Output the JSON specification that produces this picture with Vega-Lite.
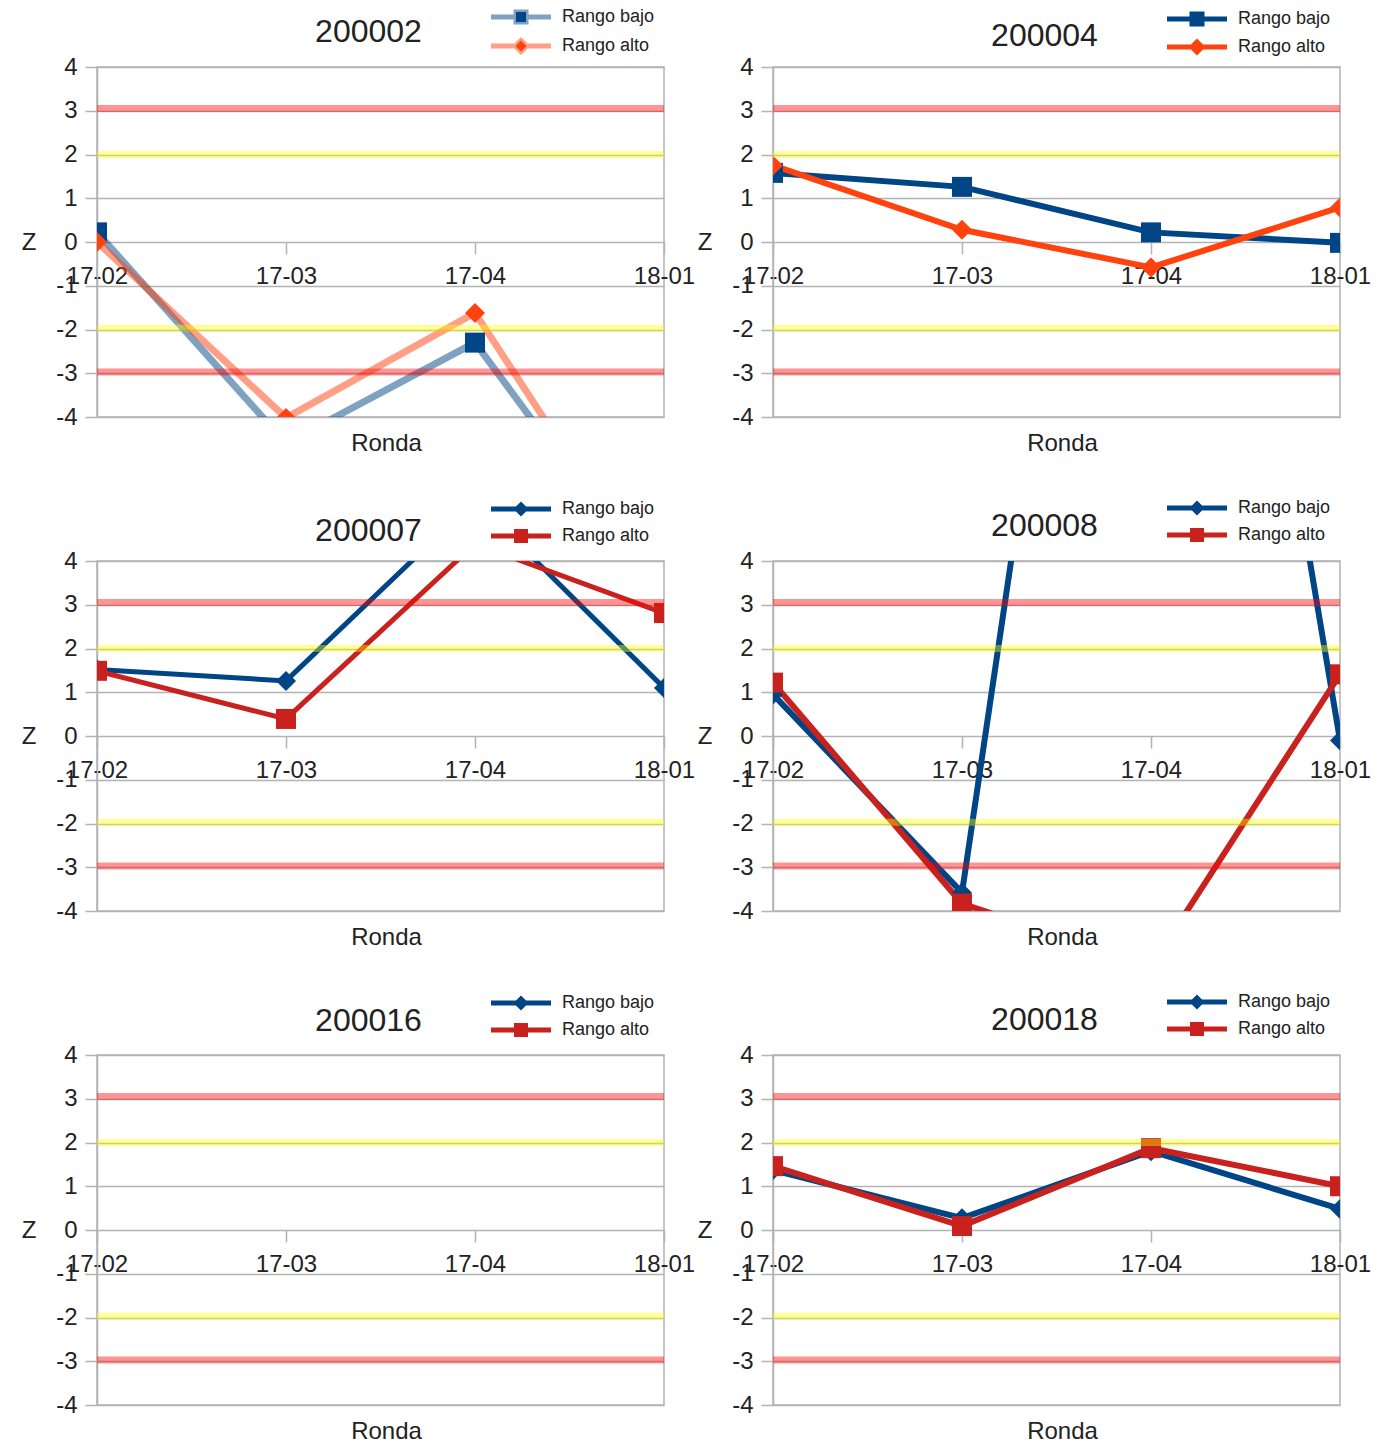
{
  "$schema": "https://vega.github.io/schema/vega-lite/v6.json",
  "padding": {"left": 20, "top": 7, "right": 5, "bottom": 0},
  "background": "white",
  "datasets": {
    "p200002": [
      {"Ronda": "17-02", "Serie": "Rango bajo", "Z": 0.22},
      {"Ronda": "17-03", "Serie": "Rango bajo", "Z": -4.6},
      {"Ronda": "17-04", "Serie": "Rango bajo", "Z": -2.3},
      {"Ronda": "18-01", "Serie": "Rango bajo", "Z": -8.14},
      {"Ronda": "17-02", "Serie": "Rango alto", "Z": 0.0},
      {"Ronda": "17-03", "Serie": "Rango alto", "Z": -4.02},
      {"Ronda": "17-04", "Serie": "Rango alto", "Z": -1.62},
      {"Ronda": "18-01", "Serie": "Rango alto", "Z": -8.23}
    ],
    "p200004": [
      {"Ronda": "17-02", "Serie": "Rango bajo", "Z": 1.58},
      {"Ronda": "17-03", "Serie": "Rango bajo", "Z": 1.26},
      {"Ronda": "17-04", "Serie": "Rango bajo", "Z": 0.22},
      {"Ronda": "18-01", "Serie": "Rango bajo", "Z": -0.02},
      {"Ronda": "17-02", "Serie": "Rango alto", "Z": 1.75},
      {"Ronda": "17-03", "Serie": "Rango alto", "Z": 0.28},
      {"Ronda": "17-04", "Serie": "Rango alto", "Z": -0.58},
      {"Ronda": "18-01", "Serie": "Rango alto", "Z": 0.79}
    ],
    "p200007": [
      {"Ronda": "17-02", "Serie": "Rango bajo", "Z": 1.52},
      {"Ronda": "17-03", "Serie": "Rango bajo", "Z": 1.26},
      {"Ronda": "17-04", "Serie": "Rango bajo", "Z": 5.38},
      {"Ronda": "18-01", "Serie": "Rango bajo", "Z": 1.1},
      {"Ronda": "17-02", "Serie": "Rango alto", "Z": 1.49},
      {"Ronda": "17-03", "Serie": "Rango alto", "Z": 0.39},
      {"Ronda": "17-04", "Serie": "Rango alto", "Z": 4.39},
      {"Ronda": "18-01", "Serie": "Rango alto", "Z": 2.81}
    ],
    "p200008": [
      {"Ronda": "17-02", "Serie": "Rango bajo", "Z": 0.95},
      {"Ronda": "17-03", "Serie": "Rango bajo", "Z": -3.58},
      {"Ronda": "17-04", "Serie": "Rango bajo", "Z": 25.6},
      {"Ronda": "18-01", "Serie": "Rango bajo", "Z": -0.1},
      {"Ronda": "17-02", "Serie": "Rango alto", "Z": 1.22},
      {"Ronda": "17-03", "Serie": "Rango alto", "Z": -3.83},
      {"Ronda": "17-04", "Serie": "Rango alto", "Z": -5.27},
      {"Ronda": "18-01", "Serie": "Rango alto", "Z": 1.41}
    ],
    "p200016": [],
    "p200018": [
      {"Ronda": "17-02", "Serie": "Rango bajo", "Z": 1.37},
      {"Ronda": "17-03", "Serie": "Rango bajo", "Z": 0.27},
      {"Ronda": "17-04", "Serie": "Rango bajo", "Z": 1.8},
      {"Ronda": "18-01", "Serie": "Rango bajo", "Z": 0.48},
      {"Ronda": "17-02", "Serie": "Rango alto", "Z": 1.46},
      {"Ronda": "17-03", "Serie": "Rango alto", "Z": 0.09},
      {"Ronda": "17-04", "Serie": "Rango alto", "Z": 1.87},
      {"Ronda": "18-01", "Serie": "Rango alto", "Z": 1.0}
    ],
    "rojo": [{"Z": 3.05}, {"Z": -2.97}],
    "amarillo": [{"Z": 2.0}, {"Z": -1.97}]
  },
  "columns": 2,
  "spacing": {"row": 42, "column": 0},
  "resolve": {
    "scale": {"color": "independent"},
    "legend": {"color": "independent"}
  },
  "concat": [
    {
      "width": 567,
      "height": 350,
      "title": {"text": "200002", "offset": -41},
      "data": {"name": "p200002"},
      "encoding": {
        "y": {
          "field": "Z", "type": "quantitative",
          "scale": {"domain": [-4, 4], "nice": false, "zero": false},
          "axis": {"title": "Z", "values": [-4, -3, -2, -1, 0, 1, 2, 3, 4], "labelExpr": "'' + datum.value", "titleX": -61, "titleY": 175, "titleAlign": "right", "titleBaseline": "middle"}
        }
      },
      "layer": [
        {
          "mark": {"type": "line", "clip": true, "strokeWidth": 7, "strokeOpacity": 0.5},
          "encoding": {
            "x": {
              "field": "Ronda", "type": "ordinal",
              "scale": {"domain": ["17-02", "17-03", "17-04", "18-01"], "padding": 0},
              "axis": {"title": "Ronda", "offset": -175, "titleX": 289, "titleY": 201, "titleAlign": "center", "titleBaseline": "middle"}
            },
            "color": {
              "field": "Serie", "type": "nominal",
              "scale": {"domain": ["Rango bajo", "Rango alto"], "range": ["#004586", "#ff420e"]},
              "legend": {
                "title": null, "legendX": 415, "legendY": -59, "symbolSize": 100,
                "encode": {"symbols": {"update": {
                  "shape": {"signal": "datum.value === 'Rango bajo' ? 'M-6,0L6,0M-1,-1L1,-1L1,1L-1,1Z' : 'M-6,0L6,0M-1.1,0L0,-1.1L1.1,0L0,1.1Z'"},
                  "fill": {"signal": "datum.value === 'Rango bajo' ? '#004586' : '#ff420e'"},
                  "stroke": {"signal": "datum.value === 'Rango bajo' ? '#004586' : '#ff420e'"},
                  "size": {"value": 100},
                  "strokeWidth": {"value": 5},
                  "strokeOpacity": {"value": 0.5},
                  "fillOpacity": {"value": 1},
                  "opacity": {"value": 1}
                }}}
              }
            }
          }
        },
        {
          "transform": [{"filter": "datum.Serie === 'Rango bajo'"}],
          "mark": {"type": "point", "shape": "square", "filled": true, "clip": true, "size": 400, "opacity": 1},
          "encoding": {
            "x": {"field": "Ronda", "type": "ordinal", "scale": {"domain": ["17-02", "17-03", "17-04", "18-01"], "padding": 0}},
            "color": {"field": "Serie", "type": "nominal", "scale": {"domain": ["Rango bajo", "Rango alto"], "range": ["#004586", "#ff420e"]}}
          }
        },
        {
          "transform": [{"filter": "datum.Serie === 'Rango alto'"}],
          "mark": {"type": "point", "shape": "diamond", "filled": true, "clip": true, "size": 400, "opacity": 1},
          "encoding": {
            "x": {"field": "Ronda", "type": "ordinal", "scale": {"domain": ["17-02", "17-03", "17-04", "18-01"], "padding": 0}},
            "color": {"field": "Serie", "type": "nominal", "scale": {"domain": ["Rango bajo", "Rango alto"], "range": ["#004586", "#ff420e"]}}
          }
        },
        {"data": {"name": "rojo"}, "mark": {"type": "rule", "color": "#ff0000", "opacity": 0.42, "strokeWidth": 7}},
        {"data": {"name": "amarillo"}, "mark": {"type": "rule", "color": "#ffff00", "opacity": 0.4, "strokeWidth": 7}}
      ]
    },
    {
      "width": 567,
      "height": 350,
      "title": {"text": "200004", "offset": -43},
      "data": {"name": "p200004"},
      "encoding": {
        "y": {
          "field": "Z", "type": "quantitative",
          "scale": {"domain": [-4, 4], "nice": false, "zero": false},
          "axis": {"title": "Z", "values": [-4, -3, -2, -1, 0, 1, 2, 3, 4], "labelExpr": "'' + datum.value", "titleX": -61, "titleY": 175, "titleAlign": "right", "titleBaseline": "middle"}
        }
      },
      "layer": [
        {
          "mark": {"type": "line", "clip": true, "strokeWidth": 6},
          "encoding": {
            "x": {
              "field": "Ronda", "type": "ordinal",
              "scale": {"domain": ["17-02", "17-03", "17-04", "18-01"], "padding": 0},
              "axis": {"title": "Ronda", "offset": -175, "titleX": 289, "titleY": 201, "titleAlign": "center", "titleBaseline": "middle"}
            },
            "color": {
              "field": "Serie", "type": "nominal",
              "scale": {"domain": ["Rango bajo", "Rango alto"], "range": ["#004586", "#ff420e"]},
              "legend": {
                "title": null, "legendX": 415, "legendY": -57, "symbolSize": 100,
                "encode": {"symbols": {"update": {
                  "shape": {"signal": "datum.value === 'Rango bajo' ? 'M-6,0L6,0M-1,-1L1,-1L1,1L-1,1Z' : 'M-6,0L6,0M-1,0L0,-1L1,0L0,1Z'"},
                  "fill": {"signal": "datum.value === 'Rango bajo' ? '#004586' : '#ff420e'"},
                  "stroke": {"signal": "datum.value === 'Rango bajo' ? '#004586' : '#ff420e'"},
                  "size": {"value": 100},
                  "strokeWidth": {"value": 5},
                  "strokeOpacity": {"value": 1},
                  "fillOpacity": {"value": 1},
                  "opacity": {"value": 1}
                }}}
              }
            }
          }
        },
        {
          "transform": [{"filter": "datum.Serie === 'Rango bajo'"}],
          "mark": {"type": "point", "shape": "square", "filled": true, "clip": true, "size": 400, "opacity": 1},
          "encoding": {
            "x": {"field": "Ronda", "type": "ordinal", "scale": {"domain": ["17-02", "17-03", "17-04", "18-01"], "padding": 0}},
            "color": {"field": "Serie", "type": "nominal", "scale": {"domain": ["Rango bajo", "Rango alto"], "range": ["#004586", "#ff420e"]}}
          }
        },
        {
          "transform": [{"filter": "datum.Serie === 'Rango alto'"}],
          "mark": {"type": "point", "shape": "diamond", "filled": true, "clip": true, "size": 400, "opacity": 1},
          "encoding": {
            "x": {"field": "Ronda", "type": "ordinal", "scale": {"domain": ["17-02", "17-03", "17-04", "18-01"], "padding": 0}},
            "color": {"field": "Serie", "type": "nominal", "scale": {"domain": ["Rango bajo", "Rango alto"], "range": ["#004586", "#ff420e"]}}
          }
        },
        {"data": {"name": "rojo"}, "mark": {"type": "rule", "color": "#ff0000", "opacity": 0.42, "strokeWidth": 7}},
        {"data": {"name": "amarillo"}, "mark": {"type": "rule", "color": "#ffff00", "opacity": 0.4, "strokeWidth": 7}}
      ]
    },
    {
      "width": 567,
      "height": 350,
      "title": {"text": "200007", "offset": -48},
      "data": {"name": "p200007"},
      "encoding": {
        "y": {
          "field": "Z", "type": "quantitative",
          "scale": {"domain": [-4, 4], "nice": false, "zero": false},
          "axis": {"title": "Z", "values": [-4, -3, -2, -1, 0, 1, 2, 3, 4], "labelExpr": "'' + datum.value", "titleX": -61, "titleY": 175, "titleAlign": "right", "titleBaseline": "middle"}
        }
      },
      "layer": [
        {
          "mark": {"type": "line", "clip": true, "strokeWidth": 5},
          "encoding": {
            "x": {
              "field": "Ronda", "type": "ordinal",
              "scale": {"domain": ["17-02", "17-03", "17-04", "18-01"], "padding": 0},
              "axis": {"title": "Ronda", "offset": -175, "titleX": 289, "titleY": 201, "titleAlign": "center", "titleBaseline": "middle"}
            },
            "color": {
              "field": "Serie", "type": "nominal",
              "scale": {"domain": ["Rango bajo", "Rango alto"], "range": ["#004586", "#c9211e"]},
              "legend": {
                "title": null, "legendX": 415, "legendY": -61, "symbolSize": 100,
                "encode": {"symbols": {"update": {
                  "shape": {"signal": "datum.value === 'Rango bajo' ? 'M-6,0L6,0M-0.8,0L0,-0.8L0.8,0L0,0.8Z' : 'M-6,0L6,0M-0.9,-0.9L0.9,-0.9L0.9,0.9L-0.9,0.9Z'"},
                  "fill": {"signal": "datum.value === 'Rango bajo' ? '#004586' : '#c9211e'"},
                  "stroke": {"signal": "datum.value === 'Rango bajo' ? '#004586' : '#c9211e'"},
                  "size": {"value": 100},
                  "strokeWidth": {"value": 5},
                  "strokeOpacity": {"value": 1},
                  "fillOpacity": {"value": 1},
                  "opacity": {"value": 1}
                }}}
              }
            }
          }
        },
        {
          "transform": [{"filter": "datum.Serie === 'Rango bajo'"}],
          "mark": {"type": "point", "shape": "diamond", "filled": true, "clip": true, "size": 400, "opacity": 1},
          "encoding": {
            "x": {"field": "Ronda", "type": "ordinal", "scale": {"domain": ["17-02", "17-03", "17-04", "18-01"], "padding": 0}},
            "color": {"field": "Serie", "type": "nominal", "scale": {"domain": ["Rango bajo", "Rango alto"], "range": ["#004586", "#c9211e"]}}
          }
        },
        {
          "transform": [{"filter": "datum.Serie === 'Rango alto'"}],
          "mark": {"type": "point", "shape": "square", "filled": true, "clip": true, "size": 400, "opacity": 1},
          "encoding": {
            "x": {"field": "Ronda", "type": "ordinal", "scale": {"domain": ["17-02", "17-03", "17-04", "18-01"], "padding": 0}},
            "color": {"field": "Serie", "type": "nominal", "scale": {"domain": ["Rango bajo", "Rango alto"], "range": ["#004586", "#c9211e"]}}
          }
        },
        {"data": {"name": "rojo"}, "mark": {"type": "rule", "color": "#ff0000", "opacity": 0.42, "strokeWidth": 7}},
        {"data": {"name": "amarillo"}, "mark": {"type": "rule", "color": "#ffff00", "opacity": 0.4, "strokeWidth": 7}}
      ]
    },
    {
      "width": 567,
      "height": 350,
      "title": {"text": "200008", "offset": -44},
      "data": {"name": "p200008"},
      "encoding": {
        "y": {
          "field": "Z", "type": "quantitative",
          "scale": {"domain": [-4, 4], "nice": false, "zero": false},
          "axis": {"title": "Z", "values": [-4, -3, -2, -1, 0, 1, 2, 3, 4], "labelExpr": "'' + datum.value", "titleX": -61, "titleY": 175, "titleAlign": "right", "titleBaseline": "middle"}
        }
      },
      "layer": [
        {
          "mark": {"type": "line", "clip": true, "strokeWidth": 6},
          "encoding": {
            "x": {
              "field": "Ronda", "type": "ordinal",
              "scale": {"domain": ["17-02", "17-03", "17-04", "18-01"], "padding": 0},
              "axis": {"title": "Ronda", "offset": -175, "titleX": 289, "titleY": 201, "titleAlign": "center", "titleBaseline": "middle"}
            },
            "color": {
              "field": "Serie", "type": "nominal",
              "scale": {"domain": ["Rango bajo", "Rango alto"], "range": ["#004586", "#c9211e"]},
              "legend": {
                "title": null, "legendX": 415, "legendY": -62, "symbolSize": 100,
                "encode": {"symbols": {"update": {
                  "shape": {"signal": "datum.value === 'Rango bajo' ? 'M-6,0L6,0M-0.8,0L0,-0.8L0.8,0L0,0.8Z' : 'M-6,0L6,0M-0.9,-0.9L0.9,-0.9L0.9,0.9L-0.9,0.9Z'"},
                  "fill": {"signal": "datum.value === 'Rango bajo' ? '#004586' : '#c9211e'"},
                  "stroke": {"signal": "datum.value === 'Rango bajo' ? '#004586' : '#c9211e'"},
                  "size": {"value": 100},
                  "strokeWidth": {"value": 5},
                  "strokeOpacity": {"value": 1},
                  "fillOpacity": {"value": 1},
                  "opacity": {"value": 1}
                }}}
              }
            }
          }
        },
        {
          "transform": [{"filter": "datum.Serie === 'Rango bajo'"}],
          "mark": {"type": "point", "shape": "diamond", "filled": true, "clip": true, "size": 400, "opacity": 1},
          "encoding": {
            "x": {"field": "Ronda", "type": "ordinal", "scale": {"domain": ["17-02", "17-03", "17-04", "18-01"], "padding": 0}},
            "color": {"field": "Serie", "type": "nominal", "scale": {"domain": ["Rango bajo", "Rango alto"], "range": ["#004586", "#c9211e"]}}
          }
        },
        {
          "transform": [{"filter": "datum.Serie === 'Rango alto'"}],
          "mark": {"type": "point", "shape": "square", "filled": true, "clip": true, "size": 400, "opacity": 1},
          "encoding": {
            "x": {"field": "Ronda", "type": "ordinal", "scale": {"domain": ["17-02", "17-03", "17-04", "18-01"], "padding": 0}},
            "color": {"field": "Serie", "type": "nominal", "scale": {"domain": ["Rango bajo", "Rango alto"], "range": ["#004586", "#c9211e"]}}
          }
        },
        {"data": {"name": "rojo"}, "mark": {"type": "rule", "color": "#ff0000", "opacity": 0.42, "strokeWidth": 7}},
        {"data": {"name": "amarillo"}, "mark": {"type": "rule", "color": "#ffff00", "opacity": 0.4, "strokeWidth": 7}}
      ]
    },
    {
      "width": 567,
      "height": 350,
      "title": {"text": "200016", "offset": -44},
      "data": {"name": "p200016"},
      "encoding": {
        "y": {
          "field": "Z", "type": "quantitative",
          "scale": {"domain": [-4, 4], "nice": false, "zero": false},
          "axis": {"title": "Z", "values": [-4, -3, -2, -1, 0, 1, 2, 3, 4], "labelExpr": "'' + datum.value", "titleX": -61, "titleY": 175, "titleAlign": "right", "titleBaseline": "middle"}
        }
      },
      "layer": [
        {
          "mark": {"type": "line", "clip": true, "strokeWidth": 5},
          "encoding": {
            "x": {
              "field": "Ronda", "type": "ordinal",
              "scale": {"domain": ["17-02", "17-03", "17-04", "18-01"], "padding": 0},
              "axis": {"title": "Ronda", "offset": -175, "titleX": 289, "titleY": 201, "titleAlign": "center", "titleBaseline": "middle"}
            },
            "color": {
              "field": "Serie", "type": "nominal",
              "scale": {"domain": ["Rango bajo", "Rango alto"], "range": ["#004586", "#c9211e"]},
              "legend": {
                "title": null, "legendX": 415, "legendY": -61, "symbolSize": 100,
                "encode": {"symbols": {"update": {
                  "shape": {"signal": "datum.value === 'Rango bajo' ? 'M-6,0L6,0M-0.8,0L0,-0.8L0.8,0L0,0.8Z' : 'M-6,0L6,0M-0.9,-0.9L0.9,-0.9L0.9,0.9L-0.9,0.9Z'"},
                  "fill": {"signal": "datum.value === 'Rango bajo' ? '#004586' : '#c9211e'"},
                  "stroke": {"signal": "datum.value === 'Rango bajo' ? '#004586' : '#c9211e'"},
                  "size": {"value": 100},
                  "strokeWidth": {"value": 5},
                  "strokeOpacity": {"value": 1},
                  "fillOpacity": {"value": 1},
                  "opacity": {"value": 1}
                }}}
              }
            }
          }
        },
        {
          "transform": [{"filter": "datum.Serie === 'Rango bajo'"}],
          "mark": {"type": "point", "shape": "diamond", "filled": true, "clip": true, "size": 400, "opacity": 1},
          "encoding": {
            "x": {"field": "Ronda", "type": "ordinal", "scale": {"domain": ["17-02", "17-03", "17-04", "18-01"], "padding": 0}},
            "color": {"field": "Serie", "type": "nominal", "scale": {"domain": ["Rango bajo", "Rango alto"], "range": ["#004586", "#c9211e"]}}
          }
        },
        {
          "transform": [{"filter": "datum.Serie === 'Rango alto'"}],
          "mark": {"type": "point", "shape": "square", "filled": true, "clip": true, "size": 400, "opacity": 1},
          "encoding": {
            "x": {"field": "Ronda", "type": "ordinal", "scale": {"domain": ["17-02", "17-03", "17-04", "18-01"], "padding": 0}},
            "color": {"field": "Serie", "type": "nominal", "scale": {"domain": ["Rango bajo", "Rango alto"], "range": ["#004586", "#c9211e"]}}
          }
        },
        {"data": {"name": "rojo"}, "mark": {"type": "rule", "color": "#ff0000", "opacity": 0.42, "strokeWidth": 7}},
        {"data": {"name": "amarillo"}, "mark": {"type": "rule", "color": "#ffff00", "opacity": 0.4, "strokeWidth": 7}}
      ]
    },
    {
      "width": 567,
      "height": 350,
      "title": {"text": "200018", "offset": -44},
      "data": {"name": "p200018"},
      "encoding": {
        "y": {
          "field": "Z", "type": "quantitative",
          "scale": {"domain": [-4, 4], "nice": false, "zero": false},
          "axis": {"title": "Z", "values": [-4, -3, -2, -1, 0, 1, 2, 3, 4], "labelExpr": "'' + datum.value", "titleX": -61, "titleY": 175, "titleAlign": "right", "titleBaseline": "middle"}
        }
      },
      "layer": [
        {
          "mark": {"type": "line", "clip": true, "strokeWidth": 6},
          "encoding": {
            "x": {
              "field": "Ronda", "type": "ordinal",
              "scale": {"domain": ["17-02", "17-03", "17-04", "18-01"], "padding": 0},
              "axis": {"title": "Ronda", "offset": -175, "titleX": 289, "titleY": 201, "titleAlign": "center", "titleBaseline": "middle"}
            },
            "color": {
              "field": "Serie", "type": "nominal",
              "scale": {"domain": ["Rango bajo", "Rango alto"], "range": ["#004586", "#c9211e"]},
              "legend": {
                "title": null, "legendX": 415, "legendY": -62, "symbolSize": 100,
                "encode": {"symbols": {"update": {
                  "shape": {"signal": "datum.value === 'Rango bajo' ? 'M-6,0L6,0M-0.8,0L0,-0.8L0.8,0L0,0.8Z' : 'M-6,0L6,0M-0.9,-0.9L0.9,-0.9L0.9,0.9L-0.9,0.9Z'"},
                  "fill": {"signal": "datum.value === 'Rango bajo' ? '#004586' : '#c9211e'"},
                  "stroke": {"signal": "datum.value === 'Rango bajo' ? '#004586' : '#c9211e'"},
                  "size": {"value": 100},
                  "strokeWidth": {"value": 5},
                  "strokeOpacity": {"value": 1},
                  "fillOpacity": {"value": 1},
                  "opacity": {"value": 1}
                }}}
              }
            }
          }
        },
        {
          "transform": [{"filter": "datum.Serie === 'Rango bajo'"}],
          "mark": {"type": "point", "shape": "diamond", "filled": true, "clip": true, "size": 400, "opacity": 1},
          "encoding": {
            "x": {"field": "Ronda", "type": "ordinal", "scale": {"domain": ["17-02", "17-03", "17-04", "18-01"], "padding": 0}},
            "color": {"field": "Serie", "type": "nominal", "scale": {"domain": ["Rango bajo", "Rango alto"], "range": ["#004586", "#c9211e"]}}
          }
        },
        {
          "transform": [{"filter": "datum.Serie === 'Rango alto'"}],
          "mark": {"type": "point", "shape": "square", "filled": true, "clip": true, "size": 400, "opacity": 1},
          "encoding": {
            "x": {"field": "Ronda", "type": "ordinal", "scale": {"domain": ["17-02", "17-03", "17-04", "18-01"], "padding": 0}},
            "color": {"field": "Serie", "type": "nominal", "scale": {"domain": ["Rango bajo", "Rango alto"], "range": ["#004586", "#c9211e"]}}
          }
        },
        {"data": {"name": "rojo"}, "mark": {"type": "rule", "color": "#ff0000", "opacity": 0.42, "strokeWidth": 7}},
        {"data": {"name": "amarillo"}, "mark": {"type": "rule", "color": "#ffff00", "opacity": 0.4, "strokeWidth": 7}}
      ]
    }
  ],
  "config": {
    "font": "Liberation Sans",
    "view": {"stroke": "#b3b3b3", "strokeWidth": 1.5},
    "title": {"fontSize": 32, "fontWeight": "normal", "color": "#222222", "frame": "group", "baseline": "alphabetic", "dx": -12},
    "axis": {
      "labelFontSize": 24, "labelColor": "#222222",
      "titleFontSize": 24, "titleFontWeight": "normal", "titleColor": "#222222",
      "tickColor": "#b3b3b3", "tickWidth": 1.5, "tickSize": 12,
      "domainColor": "#b3b3b3", "domainWidth": 1.5,
      "gridColor": "#b3b3b3", "gridWidth": 1.5
    },
    "axisX": {"grid": false, "domain": false, "labelAngle": 0, "labelPadding": 10},
    "axisY": {"grid": true, "labelPadding": 8, "titleAngle": 0},
    "legend": {
      "orient": "none", "labelFontSize": 18, "labelColor": "#222222",
      "symbolSize": 100, "symbolStrokeWidth": 5, "labelOffset": 32, "rowPadding": -2, "padding": 0
    }
  }
}
